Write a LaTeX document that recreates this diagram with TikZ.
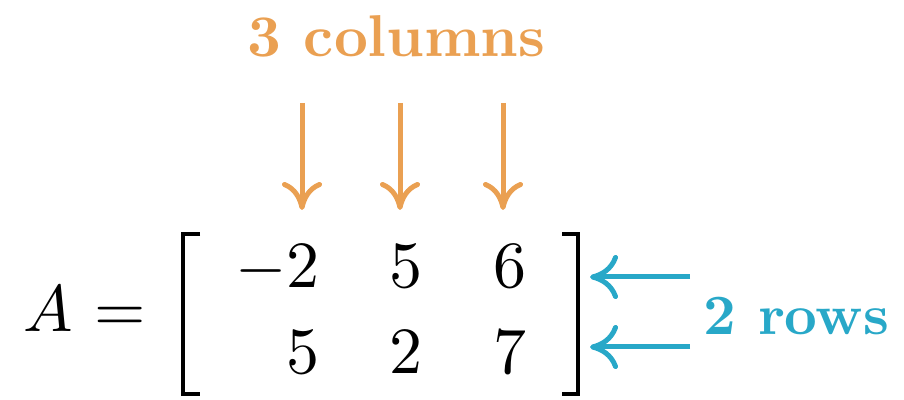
\documentclass[tikz,border=0pt]{standalone}
\usetikzlibrary{arrows.meta}
\DeclareFontShape{OT1}{cmr}{m}{n}{<->cmr10}{}
\DeclareFontShape{OT1}{cmr}{bx}{n}{<->cmbx10}{}
\DeclareFontShape{OML}{cmm}{m}{it}{<->cmmi10}{}
\DeclareFontShape{OMS}{cmsy}{m}{n}{<->cmsy10}{}
\definecolor{colorange}{RGB}{234,160,82}
\definecolor{rowcyan}{RGB}{40,168,200}
\begin{document}
\begin{tikzpicture}[x=0.5pt,y=-0.5pt,
  mathtxt/.style={inner sep=0pt, anchor=base, font=\fontsize{33}{40}\selectfont},
  cell/.style={inner sep=0pt, anchor=base east, font=\fontsize{33}{40}\selectfont},
  bracket/.style={line width=2.2pt},
  colarrow/.style={draw=colorange, line width=2.5pt, -{Computer Modern Rightarrow[length=14pt,width=20pt]}},
  rowarrow/.style={draw=rowcyan, line width=2.5pt, -{Computer Modern Rightarrow[length=14pt,width=22pt]}},
  lbl/.style={inner sep=0pt, anchor=base west, font=\fontencoding{OT1}\fontfamily{cmr}\fontseries{bx}\fontshape{n}\fontsize{#1}{36}\selectfont}]
\useasboundingbox (0,0) rectangle (904,400);
% left-hand side
\node[mathtxt] (A) at (48,332) {$A$};
\node[mathtxt] (eq) at (120,332) {$=$};
% matrix entries
\node[cell] (m11) at (320,288) {$-2$};
\node[cell] (m12) at (423,288) {$5$};
\node[cell] (m13) at (527,288) {$6$};
\node[cell] (m21) at (320,373) {$5$};
\node[cell] (m22) at (423,373) {$2$};
\node[cell] (m23) at (527,373) {$7$};
% brackets
\draw[bracket] (200,234) -- (183,234) -- (183,394) -- (200,394);
\draw[bracket] (562,234) -- (578,234) -- (578,394) -- (562,394);
% column label and arrows
\node[lbl=29.5, text=colorange] (cols) at (247,57) {3 columns};
\coordinate (c1s) at (302,103); \coordinate (c1e) at (302,210);
\coordinate (c2s) at (400,103); \coordinate (c2e) at (400,210);
\coordinate (c3s) at (503,103); \coordinate (c3e) at (503,210);
\draw[colarrow] (c1s) -- (c1e);
\draw[colarrow] (c2s) -- (c2e);
\draw[colarrow] (c3s) -- (c3e);
% row label and arrows
\node[lbl=28.5, text=rowcyan] (rows) at (703,335) {2 rows};
\coordinate (r1s) at (690,277); \coordinate (r1e) at (590,277);
\coordinate (r2s) at (690,347); \coordinate (r2e) at (590,347);
\draw[rowarrow] (r1s) -- (r1e);
\draw[rowarrow] (r2s) -- (r2e);
\end{tikzpicture}
\end{document}
